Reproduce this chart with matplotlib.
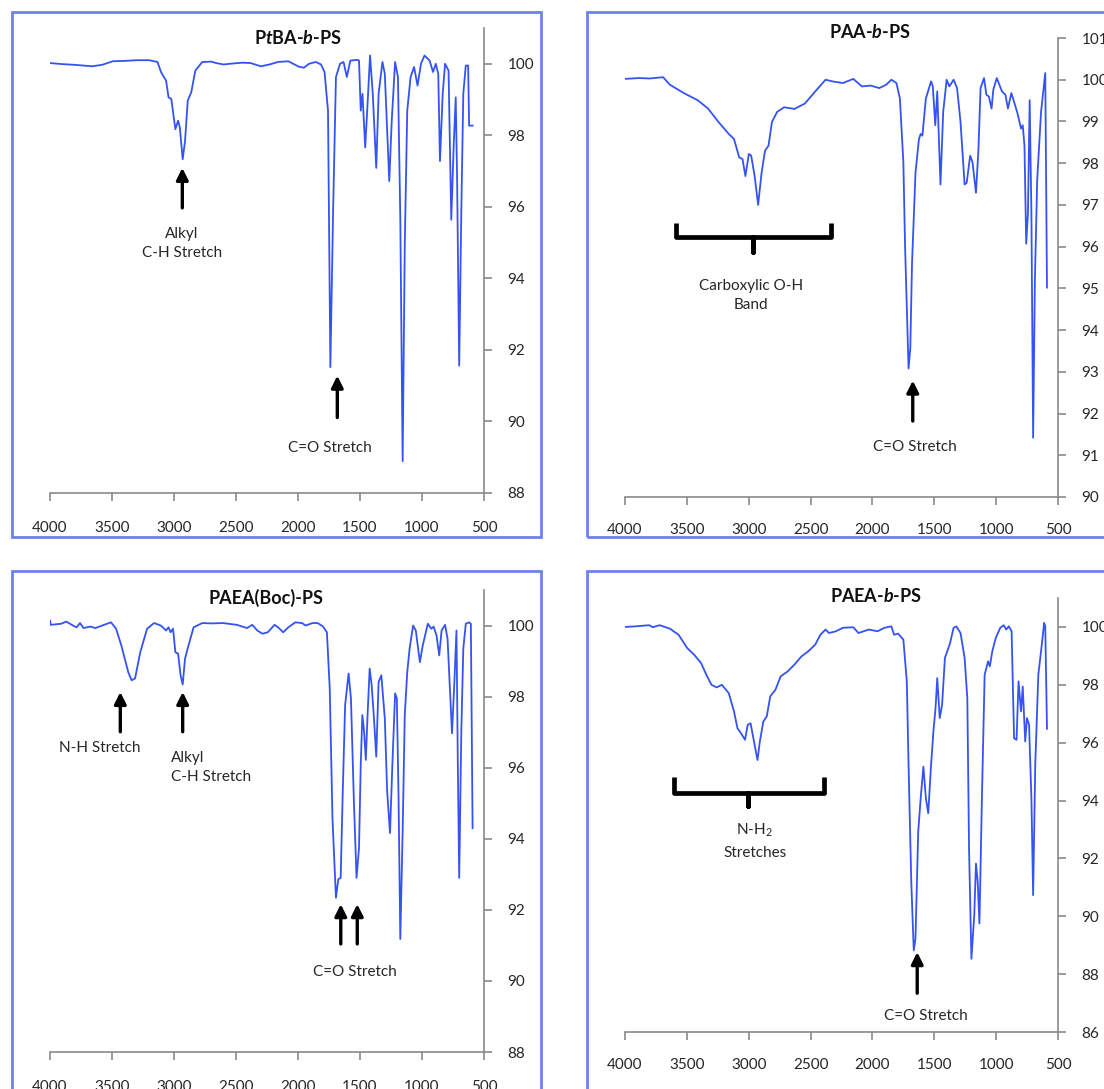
import matplotlib
matplotlib.use('Agg')
import matplotlib.pyplot as plt
from matplotlib.patches import Rectangle

plt.rcParams['font.family'] = ['Lato', 'DejaVu Sans']
plt.rcParams['mathtext.fontset'] = 'custom'
plt.rcParams['mathtext.rm'] = 'Lato'
plt.rcParams['mathtext.it'] = 'Lato:italic:bold'
plt.rcParams['mathtext.bf'] = 'Lato:bold'

# ---------------- data ----------------
titles = ['P$\\mathit{t}$BA-$\\mathit{b}$-PS', 'PAA-$\\mathit{b}$-PS',
          'PAEA(Boc)-PS', 'PAEA-$\\mathit{b}$-PS']
xticks = [4000, 3500, 3000, 2500, 2000, 1500, 1000, 500]

ptba_wn = [4000, 3900, 3800, 3661, 3580, 3494, 3400, 3300, 3200, 3133, 3105, 3064, 3044, 3022,
           2989, 2967, 2953, 2930, 2911, 2889, 2861, 2828, 2772, 2700, 2661, 2600, 2550, 2450,
           2383, 2300, 2230, 2161, 2078, 1994, 1953, 1911, 1856, 1814,
           1786, 1758, 1739, 1717, 1694, 1661, 1633, 1606, 1578, 1522, 1508, 1494, 1480, 1458,
           1439, 1419, 1397, 1369, 1350, 1319, 1300, 1264, 1244, 1217, 1194, 1175, 1156, 1139,
           1119, 1092, 1064, 1036, 1008, 980, 939, 911, 889, 869, 855, 833, 814, 786, 764, 744,
           728, 717, 700, 683, 667, 647, 628, 620, 592]
ptba_t = [100.02, 99.99, 99.97, 99.93, 99.97, 100.07, 100.08, 100.1, 100.1, 100.05, 99.77, 99.53,
          99.06, 99.02, 98.17, 98.41, 98.22, 97.33,
          97.84, 98.97, 99.20, 99.81, 100.05, 100.06, 100.02, 99.98, 100.0, 100.03, 100.02, 99.93,
          99.98, 100.05, 100.07, 99.92,
          99.89, 100.0, 100.05, 99.98, 99.77, 98.69, 91.52, 95.88, 99.63, 100.0, 100.05, 99.63,
          100.09, 100.11, 100.09, 98.69, 99.16, 97.66, 98.88, 100.23, 99.16, 97.09, 99.16, 100.05,
          99.72, 96.72, 98.41, 100.05, 99.63, 95.69, 88.89, 94.94, 98.69, 99.63, 99.91, 99.39,
          100.0, 100.23, 100.09, 99.77, 100.0, 99.72, 97.28, 99.16, 100.0, 99.81, 95.64, 97.75,
          99.06, 96.81, 91.56, 95.88, 99.16, 99.95, 99.95, 98.27, 98.27]

paa_wn = [4000, 3888, 3800, 3692, 3637, 3525, 3413, 3329, 3245, 3161, 3119, 3077, 3050, 3027, 2999,
          2980, 2952, 2924, 2896, 2868, 2840, 2812, 2770, 2714, 2630, 2546, 2462, 2379, 2323,
          2239, 2155, 2085, 2015, 1945, 1889, 1847, 1806, 1778, 1750, 1736, 1708, 1694, 1680,
          1652, 1624, 1610, 1596, 1568, 1526, 1512, 1492, 1476, 1450, 1428, 1400, 1378, 1344,
          1316, 1288, 1255, 1238, 1210, 1191, 1163, 1143, 1126, 1098, 1079, 1059, 1037, 1023,
          995, 953, 925, 905, 877, 855, 827, 799, 785, 771, 757, 743, 729, 715, 701, 687, 668,
          637, 603, 589]
paa_t = [100.02, 100.04, 100.03, 100.06, 99.88, 99.68, 99.51, 99.31, 98.99, 98.70, 98.58, 98.14,
         98.10, 97.69, 98.22, 98.18, 97.69, 97.00, 97.77, 98.30, 98.42, 98.99, 99.23, 99.34, 99.30,
         99.43, 99.72, 100.0, 99.96, 99.92, 100.02, 99.84, 99.86, 99.80, 99.88, 100.0, 99.92,
         99.55, 98.02, 95.99, 93.08, 93.56, 95.59, 97.77, 98.58, 98.70, 98.66, 99.55, 99.96,
         99.84, 98.91, 99.72, 97.49, 99.23, 100.0, 99.84, 100.0, 99.80, 98.99, 97.49, 97.53,
         98.18, 98.02, 97.29, 98.34, 99.80, 100.04, 99.64, 99.60, 99.31, 99.76, 100.04, 99.72,
         99.64, 99.31, 99.68, 99.47, 99.19, 98.83, 98.91, 98.42, 96.07, 96.80, 99.51, 96.80,
         91.42, 95.18, 97.61, 99.23, 100.16, 95.02]

boc_wn = [4000, 3994, 3911, 3869, 3814, 3786, 3758, 3730, 3675, 3633, 3564, 3508, 3467, 3425,
          3369, 3342, 3314, 3272, 3217, 3161, 3106, 3064, 3044, 3028, 3008, 2989, 2967, 2947,
          2930, 2911, 2883, 2842, 2772, 2700, 2605, 2494, 2411, 2369, 2328, 2286, 2244, 2189, 2161,
          2119, 2078, 2022, 1967, 1939, 1883, 1842, 1800, 1767, 1744, 1722, 1694, 1675, 1656,
          1639, 1620, 1592, 1573, 1550, 1528, 1508, 1494, 1481, 1467, 1453, 1439, 1422, 1406,
          1389, 1369, 1350, 1328, 1300, 1281, 1258, 1239, 1217, 1203, 1189, 1175, 1156, 1139,
          1119, 1100, 1072, 1050, 1017, 994, 953, 925, 906, 883, 861, 842, 814, 794, 758, 739,
          722, 711, 700, 683, 667, 647, 620, 606, 592]
boc_t = [100.14, 100.02, 100.05, 100.11, 100.0, 99.95, 100.07, 99.93, 99.97, 99.93, 100.02,
         100.09, 99.91, 99.44, 98.69, 98.46, 98.51, 99.25, 99.91, 100.07, 100.0, 99.86, 99.95,
         99.81, 99.91, 99.25, 99.21, 98.60, 98.34, 99.07, 99.44, 99.95, 100.07, 100.06, 100.07,
         100.02, 99.93, 100.02, 99.86, 99.77, 99.81, 100.02, 99.95, 99.81, 99.95, 100.09, 100.07,
         100.0, 100.07, 100.07, 99.98, 99.81, 98.23, 94.58, 92.34, 92.86, 92.90, 95.33, 97.76,
         98.65, 97.95, 95.14, 92.90, 93.74, 96.08, 97.48, 97.01, 96.22, 97.48, 98.79, 98.32,
         97.48, 96.31, 98.41, 98.60, 97.39, 95.33, 94.16, 96.08, 98.09, 97.95, 95.14, 91.18,
         94.21, 97.48, 98.69, 99.35, 100.0, 99.86, 98.97, 99.44, 100.05, 99.91, 99.97, 99.72,
         99.16, 99.86, 100.02, 99.63, 96.97, 98.41, 99.86, 96.08, 92.90, 97.01, 99.35, 100.05,
         100.09, 100.05, 94.30]

paea_wn = [4000, 3916, 3804, 3776, 3720, 3637, 3567, 3497, 3441, 3385, 3343, 3301, 3259, 3217,
           3161, 3119, 3091, 3063, 3030, 3008, 2985, 2952, 2929, 2910, 2882, 2854, 2826, 2784,
           2742, 2686, 2630, 2574, 2518, 2462, 2421, 2379, 2351, 2295, 2239, 2155, 2113, 2029,
           1959, 1903, 1847, 1825, 1792, 1750, 1722, 1708, 1686, 1666, 1652, 1630, 1610, 1588,
           1568, 1549, 1526, 1507, 1490, 1476, 1456, 1437, 1414, 1386, 1372, 1344, 1322, 1288,
           1255, 1233, 1219, 1200, 1177, 1163, 1149, 1135, 1115, 1093, 1065, 1051, 1031, 1003,
           967, 939, 919, 897, 875, 855, 835, 819, 799, 785, 765, 751, 734, 715, 701, 684, 659,
           631, 612, 603, 589]
paea_t = [100.0, 100.02, 100.06, 99.99, 100.06, 99.94, 99.73, 99.27, 99.04, 98.75, 98.35, 98.0,
          97.91, 98.0, 97.71, 97.08, 96.50, 96.33, 96.10, 96.62, 96.67, 95.92, 95.40, 96.04,
          96.73, 96.91, 97.60, 97.83, 98.29, 98.46, 98.70, 98.98, 99.16, 99.39, 99.73, 99.91,
          99.79, 99.85, 99.97, 99.99, 99.79, 99.91, 99.85, 99.97, 100.02, 99.73, 99.77, 99.56,
          98.12, 95.23, 91.19, 88.82, 89.23, 92.92, 94.08, 95.17, 94.08, 93.56, 95.23, 96.39,
          97.19, 98.23, 96.85, 97.31, 98.93, 99.27, 99.45, 99.97, 100.02, 99.79, 98.93, 97.54,
          92.34, 88.53, 90.03, 91.82, 91.19, 89.75, 94.08, 98.35, 98.81, 98.64, 99.16, 99.62,
          99.97, 100.06, 99.91, 100.02, 99.85, 96.15, 96.10, 98.12, 97.08, 97.94, 96.04, 96.85,
          96.62, 94.08, 90.73, 95.23, 98.35, 99.39, 100.14, 100.02, 96.48]

# ---------------- layout helpers ----------------
W, H = 1104, 1089
fig = plt.figure(figsize=(W / 100, H / 100), dpi=100)
fig.patch.set_facecolor('white')

LINE_C = '#3553f3'
AX_C = '#8a8a8a'
BORDER_C = '#6d82ee'
TXT_C = '#262626'


def px_rect(x0, y0, x1, y1):
    return [x0 / W, 1 - y1 / H, (x1 - x0) / W, (y1 - y0) / H]


def border(x0, y0, x1, y1):
    fig.patches.append(Rectangle((x0 / W, 1 - y1 / H), (x1 - x0) / W, (y1 - y0) / H,
                                 transform=fig.transFigure, fill=False,
                                 edgecolor=BORDER_C, lw=2.0, zorder=0))


def panel(rect, ylim, yticks, wn, t, xpad):
    ax = fig.add_axes(px_rect(*rect))
    ax.plot(wn, t, color=LINE_C, lw=1.3, solid_joinstyle='round')
    ax.set_xlim(4000, 500)
    ax.set_ylim(*ylim)
    ax.set_xticks(xticks)
    ax.set_yticks(yticks)
    ax.yaxis.tick_right()
    for s in ('left', 'top'):
        ax.spines[s].set_visible(False)
    for s in ('right', 'bottom'):
        ax.spines[s].set_color(AX_C)
        ax.spines[s].set_linewidth(1.2)
    ax.tick_params(axis='x', direction='out', length=6, width=1.2, color=AX_C,
                   labelsize=11, labelcolor=TXT_C, pad=xpad)
    ax.tick_params(axis='y', direction='out', length=6, width=1.2, color=AX_C,
                   labelsize=11, labelcolor=TXT_C, pad=11, right=True, left=False)
    ax.patch.set_alpha(0)
    return ax


def arrow(ax, x, ytip, ytail):
    ax.annotate('', xy=(x, ytip), xytext=(x, ytail),
                arrowprops=dict(arrowstyle='-|>,head_length=0.7,head_width=0.35',
                                lw=2.4, color='black', shrinkA=0, shrinkB=0))


def bracket(ax, xl, xr, xm, top, hb, tip):
    xs = [xl, xl, xm, xm, xm, xr, xr]
    ys = [top, hb, hb, tip, hb, hb, top]
    ax.plot(xs, ys, color='black', lw=3.4, solid_joinstyle='round',
            solid_capstyle='butt')


# borders
border(12, 12, 541, 537)
border(587, 12, 1112, 537)
border(12, 571, 541, 1095)
border(587, 571, 1112, 1095)

# ---- Panel 1 ----
ax1 = panel((50, 28, 484, 493), (88, 101), [88, 90, 92, 94, 96, 98, 100], ptba_wn, ptba_t, 14)
arrow(ax1, 2933, 97.09, 95.97)
ax1.text(2939, 94.98, 'Alkyl\nC-H Stretch', ha='center', va='center', fontsize=11,
         color=TXT_C, linespacing=1.45)
arrow(ax1, 1683, 91.28, 90.11)
ax1.text(1739, 89.25, 'C=O Stretch', ha='center', va='center', fontsize=11, color=TXT_C)

# ---- Panel 2 ----
ax2 = panel((625, 38, 1058, 497), (90, 101), list(range(90, 102)), paa_wn, paa_t, 13)
bracket(ax2, 3586, 2337, 2966, 96.57, 96.23, 95.87)
ax2.text(2985, 94.84, 'Carboxylic O-H\nBand', ha='center', va='center', fontsize=11,
         color=TXT_C, linespacing=1.45)
arrow(ax2, 1674, 92.79, 91.82)
ax2.text(1657, 91.2, 'C=O Stretch', ha='center', va='center', fontsize=11, color=TXT_C)

# ---- Panel 3 ----
ax3 = panel((50, 590, 484, 1052), (88, 101), [88, 90, 92, 94, 96, 98, 100], boc_wn, boc_t, 14)
arrow(ax3, 3433, 98.13, 97.01)
ax3.text(3600, 96.55, 'N-H Stretch', ha='center', va='center', fontsize=11, color=TXT_C)
arrow(ax3, 2930, 98.13, 97.01)
ax3.text(3022, 96.0, 'Alkyl\nC-H Stretch', ha='left', va='center', fontsize=11,
         color=TXT_C, linespacing=1.45)
arrow(ax3, 1655, 92.16, 91.04)
arrow(ax3, 1522, 92.16, 91.04)
ax3.text(1541, 90.25, 'C=O Stretch', ha='center', va='center', fontsize=11, color=TXT_C)

# ---- Panel 4 ----
ax4 = panel((625, 598, 1058, 1032), (86, 101), [86, 88, 90, 92, 94, 96, 98, 100],
            paea_wn, paea_t, 13)
bracket(ax4, 3600, 2393, 3002, 94.80, 94.27, 93.81)
ax4.text(2951, 92.96, 'N-H$_2$', ha='center', va='center', fontsize=11, color=TXT_C)
ax4.text(2951, 92.19, 'Stretches', ha='center', va='center', fontsize=11, color=TXT_C)
arrow(ax4, 1638, 88.76, 87.34)
ax4.text(1567, 86.55, 'C=O Stretch', ha='center', va='center', fontsize=11, color=TXT_C)

# titles
for (tx, ty), title in zip([(298, 38), (870, 32), (266, 598), (876, 596)], titles):
    fig.text(tx / W, 1 - ty / H, title, ha='center', va='center', fontsize=13,
             fontweight='bold', color='#111111')

fig.savefig('out.png', dpi=100, facecolor='white')
